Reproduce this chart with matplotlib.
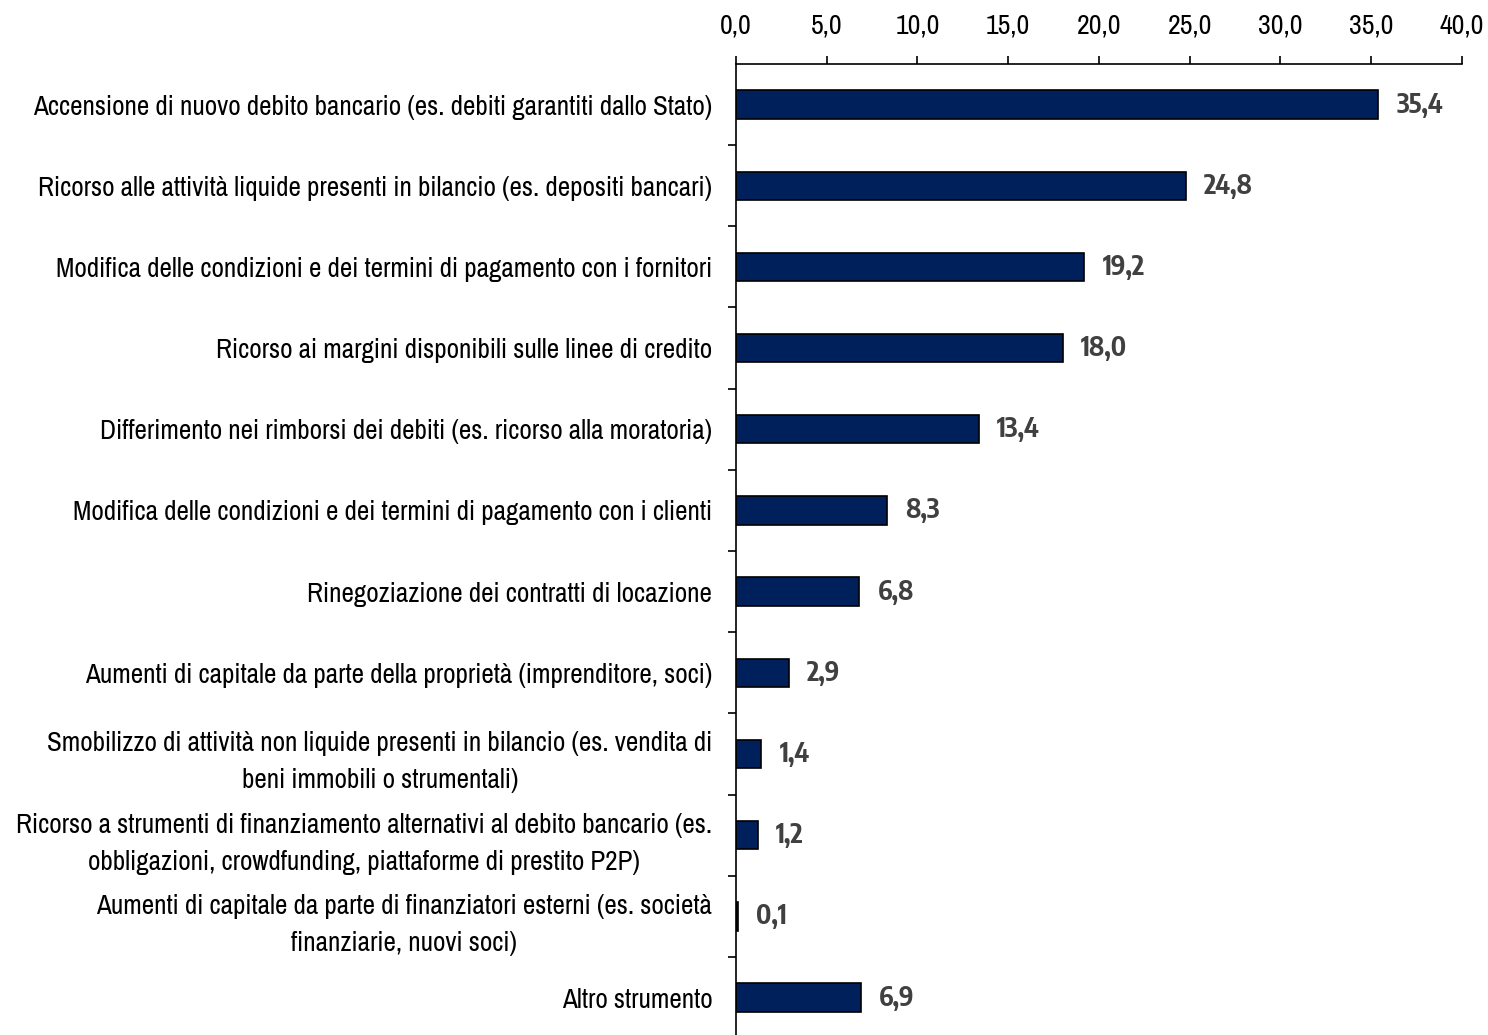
import matplotlib.pyplot as plt
from matplotlib.ticker import FixedLocator, FuncFormatter

plt.rcParams['font.family'] = ['Archivo Narrow', 'Liberation Sans', 'DejaVu Sans']

categories = [
    "Accensione di nuovo debito bancario (es. debiti garantiti dallo Stato)",
    "Ricorso alle attività liquide presenti in bilancio (es. depositi bancari)",
    "Modifica delle condizioni e dei termini di pagamento con i fornitori",
    "Ricorso ai margini disponibili sulle linee di credito",
    "Differimento nei rimborsi dei debiti (es. ricorso alla moratoria)",
    "Modifica delle condizioni e dei termini di pagamento con i clienti",
    "Rinegoziazione dei contratti di locazione",
    "Aumenti di capitale da parte della proprietà (imprenditore, soci)",
    "Smobilizzo di attività non liquide presenti in bilancio (es. vendita di\nbeni immobili o strumentali)",
    "Ricorso a strumenti di finanziamento alternativi al debito bancario (es.\nobbligazioni, crowdfunding, piattaforme di prestito P2P)",
    "Aumenti di capitale da parte di finanziatori esterni (es. società\nfinanziarie, nuovi soci)",
    "Altro strumento",
]
values = [35.4, 24.8, 19.2, 18.0, 13.4, 8.3, 6.8, 2.9, 1.4, 1.2, 0.1, 6.9]
xticks = [0, 5, 10, 15, 20, 25, 30, 35, 40]

fig = plt.figure(figsize=(14.88, 10.35), dpi=100)
ax = fig.add_axes([0.4946, -0.003, 0.4879, 0.9412])

pos = list(range(len(categories)))
ax.barh(pos, values, height=0.35, color='#00205C', edgecolor='black', linewidth=1.2)

# bold narrow face for the value labels (Archivo Narrow has no static bold here)
for p, v in zip(pos, values):
    ax.annotate(f"{v:.1f}".replace('.', ','), (v, p), xytext=(13, 0),
                textcoords='offset points', ha='left', va='center',
                fontsize=19, fontweight='bold', color='#404040',
                family=['Encode Sans Condensed', 'Liberation Sans', 'DejaVu Sans'])

ax.set_xlim(0, 40)
ax.set_ylim(len(categories) - 0.5, -0.5)

ax.xaxis.tick_top()
ax.set_xticks(xticks)
ax.xaxis.set_major_formatter(FuncFormatter(lambda x, _: f"{x:.1f}".replace('.', ',')))
ax.tick_params(axis='x', which='major', direction='out', length=6, width=1.2,
               pad=12, labelsize=20)

ax.set_yticks(pos)
ax.set_yticklabels(categories, fontsize=19.5, ha='right', multialignment='center',
                   linespacing=1.6)
ax.tick_params(axis='y', which='major', length=0, pad=17)
ax.yaxis.set_minor_locator(FixedLocator([p + 0.5 for p in pos[:-1]]))
ax.tick_params(axis='y', which='minor', direction='out', length=6, width=1.2)

for s in ['right', 'bottom']:
    ax.spines[s].set_visible(False)
for s in ['left', 'top']:
    ax.spines[s].set_linewidth(1.2)

fig.savefig('out.png', dpi=100)
